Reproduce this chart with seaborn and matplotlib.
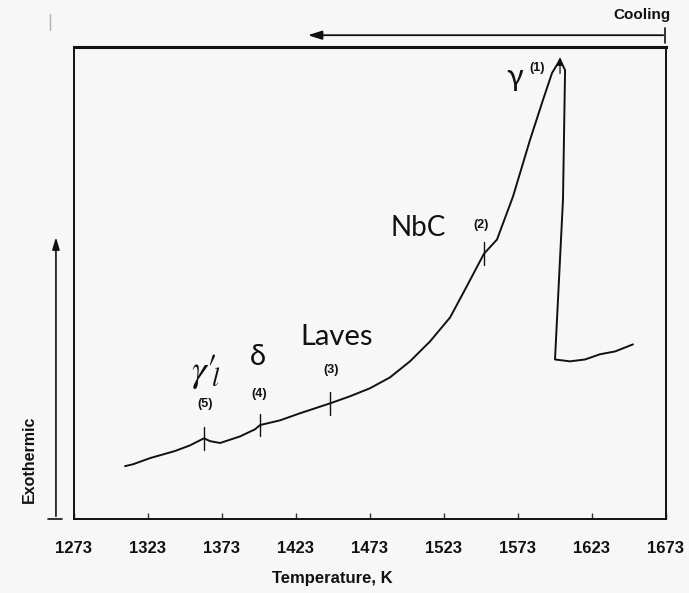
import numpy as np
import pandas as pd
import matplotlib
matplotlib.use("Agg")
import matplotlib.pyplot as plt
import seaborn as sns

# ---- data ----
temperature = [1307.5, 1312.9, 1324.4, 1341.2, 1351.4, 1360.8, 1364.9, 1371.7,
               1385.2, 1395.3, 1398.7, 1412.2, 1425.7, 1446.0, 1459.5, 1473.0,
               1486.5, 1500.0, 1513.5, 1527.1, 1537.2, 1550.0, 1558.8, 1569.6,
               1581.1, 1589.9, 1596.0, 1601.4, 1604.8, 1603.4, 1598.0, 1608.1,
               1618.3, 1628.4, 1638.6, 1650.7]
signal = [11.2, 11.6, 12.9, 14.4, 15.6, 17.1, 16.5, 16.1,
          17.5, 19.0, 19.9, 20.9, 22.4, 24.5, 26.0, 27.7,
          30.0, 33.4, 37.6, 42.7, 48.6, 56.2, 59.2, 68.3,
          80.3, 88.8, 94.5, 97.3, 95.1, 67.7, 33.8, 33.4,
          33.8, 34.9, 35.5, 37.0]
event_T = [1601.4, 1550.0, 1446.0, 1398.7, 1360.8]
event_numbers = ["(1)", "(2)", "(3)", "(4)", "(5)"]
phase_names = ["γ", "NbC", "Laves", "δ", r"$\gamma\prime_{\!\!l}$"]
tick_values = [1273, 1323, 1373, 1423, 1473, 1523, 1573, 1623, 1673]

df = pd.DataFrame({"T": temperature, "S": signal})

sns.set_theme(style="white")
plt.rcParams["mathtext.fontset"] = "stix"
bg = "#f7f7f7"
ink = "#111111"
fig = plt.figure(figsize=(6.89, 5.93), dpi=100, facecolor=bg)
ax = fig.add_axes([74 / 689, 1 - 519 / 593, (666 - 74) / 689, (519 - 47) / 593])
ax.set_facecolor(bg)

sns.lineplot(data=df, x="T", y="S", sort=False, estimator=None, color=ink,
             linewidth=1.4, ax=ax)

ax.set_xlim(1273, 1673)
ax.set_ylim(0, 100)
ax.set_yticks([])
ax.set_xticks(tick_values)
sans = ["Liberation Sans", "DejaVu Sans"]
ax.set_xticklabels([str(t) for t in tick_values], fontweight="bold", fontsize=12,
                   family=sans, color=ink)
ax.tick_params(axis="x", direction="in", length=4, width=1, color="#333333", pad=16,
               bottom=True)
ax.set_xlabel("Temperature, K", fontweight="bold", fontsize=12, family=sans,
              color=ink)
ax.xaxis.set_label_coords((332 - 74) / 592, -(578 - 519) / 472, transform=ax.transAxes)
ax.xaxis.label.set_va("center")
ax.set_ylabel("")
for side, sp in ax.spines.items():
    sp.set_color(ink)
    sp.set_linewidth(1.4)
ax.spines["top"].set_linewidth(2.2)

# event tick marks on the curve (rising branch only)
rise_T = temperature[:28]
rise_S = signal[:28]
for i, T in enumerate(event_T):
    yc = np.interp(T, rise_T, rise_S)
    if i == 0:
        ax.annotate("", xy=(T, yc + 1.2), xytext=(T, yc - 3.5),
                    arrowprops=dict(arrowstyle="-|>,head_width=0.15,head_length=0.4",
                                    color=ink, lw=0.9))
    else:
        ax.plot([T, T], [yc - 2.4, yc + 2.4], color=ink, lw=1.0)

# phase labels and numbers
phase_pos = [(1571.0, 93.6), (1505.4, 61.7), (1450.7, 38.5), (1397.3, 34.3), (1362.0, 31.3)]
num_pos = [(1585.9, 95.6), (1548.0, 62.2), (1446.7, 31.5), (1398.0, 26.4), (1361.5, 24.3)]
phase_sizes = [22, 20, 21, 21, 27]
for name, (x, y), fs in zip(phase_names, phase_pos, phase_sizes):
    ax.text(x, y, name, ha="center", va="center", fontsize=fs,
            family=["Lato", "DejaVu Sans"], color=ink)
for num, (x, y) in zip(event_numbers, num_pos):
    ax.text(x, y, num, ha="center", va="center", fontsize=9, fontweight="bold",
            family=sans, color=ink)

# Cooling arrow above the frame
ax.annotate("", xy=(1429.1, 102.5), xytext=(1673, 102.5), annotation_clip=False,
            arrowprops=dict(arrowstyle="-|>,head_width=0.22,head_length=0.7",
                            color=ink, lw=1.3))
ax.plot([1672, 1672], [100.9, 104.1], color=ink, lw=1.2, clip_on=False)
fig.text(642 / 689, 1 - 15 / 593, "Cooling", ha="center", va="center", fontsize=11,
         fontweight="bold", family=sans, color=ink)

# Exothermic arrow on the left
ax.annotate("", xy=(1260.8, 60.3), xytext=(1260.8, 0), annotation_clip=False,
            arrowprops=dict(arrowstyle="-|>,head_width=0.18,head_length=0.6",
                            color=ink, lw=1.2))
ax.plot([1255.4, 1264.9], [0, 0], color=ink, lw=1.2, clip_on=False)
fig.text(29 / 689, 1 - 459 / 593, "Exothermic", rotation=90, ha="center", va="center",
         fontsize=11.5, fontweight="bold", family=sans, color=ink)

# faint scan mark at top left
fig.add_artist(plt.Line2D([50 / 689, 50 / 689], [1 - 14 / 593, 1 - 30 / 593],
                          color="#b0b0b0", lw=1.0))

fig.savefig("out.png", dpi=100, facecolor=bg)
